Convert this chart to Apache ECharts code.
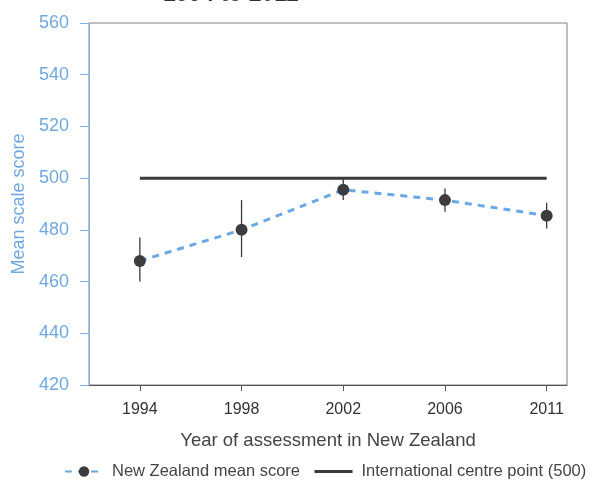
<!DOCTYPE html>
<html><head><meta charset="utf-8">
<script src="https://cdn.jsdelivr.net/npm/echarts@6/dist/echarts.min.js"></script>
<style>html,body{margin:0;padding:0;background:#fff}#c{width:601px;height:484px}</style>
</head><body><div id="c"></div>
<script>
const years = ['1994', '1998', '2002', '2006', '2011'];
const meanScores = [468, 480, 495.5, 491.5, 485.5];
const ciLow = [460, 469.5, 491.5, 487, 480.5];
const ciHigh = [477, 491.5, 500, 496, 490.5];
const centrePoint = 500;

const FONT = '"Liberation Sans", Arial, sans-serif';
const idx = years.map((y, i) => i);
const chart = echarts.init(document.getElementById('c'));
chart.setOption({
  animation: false,
  textStyle: { fontFamily: FONT },
  grid: { left: 89, right: 34, top: 23, bottom: 99, show: true, borderColor: '#808080', borderWidth: 1 },
  graphic: [{
    type: 'text', x: 163, y: -5, z: 100,
    style: { text: '1994 to 2011', font: 'bold 23px ' + FONT, fill: '#333', verticalAlign: 'middle' }
  }],
  xAxis: {
    type: 'value', min: -0.5, max: 4.2,
    name: 'Year of assessment in New Zealand', nameLocation: 'middle', nameGap: 46,
    nameTextStyle: { fontSize: 18.5, color: '#444', fontFamily: FONT },
    axisLine: { show: true, onZero: false, lineStyle: { color: '#555', width: 1 } },
    axisTick: { show: true, customValues: idx, length: 6, lineStyle: { color: '#555' } },
    axisLabel: { customValues: idx, formatter: v => years[Math.round(v)] || '', fontSize: 16, color: '#333', margin: 17, fontFamily: FONT },
    splitLine: { show: false }
  },
  yAxis: {
    type: 'value', min: 420, max: 560, interval: 20,
    name: 'Mean scale score', nameLocation: 'middle', nameGap: 60,
    nameTextStyle: { fontSize: 18, color: '#6fa8e0', fontFamily: FONT },
    axisLine: { show: true, onZero: false, lineStyle: { color: '#7fb2e5', width: 1 } },
    axisTick: { show: true, length: 9, lineStyle: { color: '#7fb2e5' } },
    axisLabel: { fontSize: 18, color: '#6fa8e0', margin: 20, fontFamily: FONT },
    splitLine: { show: false }
  },
  legend: {
    bottom: 4, left: 64, padding: 0, itemWidth: 38, itemHeight: 13, itemGap: 13,
    textStyle: { fontSize: 16.5, color: '#444', fontFamily: FONT, padding: [0, 0, 0, 4] },
    data: [
      { name: 'New Zealand mean score' },
      { name: 'International centre point (500)', itemStyle: { color: 'rgba(0,0,0,0)', borderWidth: 0 }, lineStyle: { color: '#3a3a3a', width: 3 } }
    ]
  },
  series: [
    {
      name: 'International centre point (500)', type: 'line', z: 1,
      data: [[0, centrePoint], [years.length - 1, centrePoint]],
      symbol: 'none', lineStyle: { color: '#3a3a3a', width: 3 }, itemStyle: { color: '#3a3a3a' }
    },
    {
      name: 'errors', type: 'custom', z: 2,
      data: idx.map(i => [i, ciLow[i], ciHigh[i]]),
      renderItem: (params, api) => {
        const lo = api.coord([api.value(0), api.value(1)]);
        const hi = api.coord([api.value(0), api.value(2)]);
        return { type: 'line', shape: { x1: lo[0], y1: lo[1], x2: hi[0], y2: hi[1] }, style: { stroke: '#3a3a3a', lineWidth: 1.3 } };
      }
    },
    {
      name: 'New Zealand mean score', type: 'line', z: 3,
      data: idx.map(i => [i, meanScores[i]]),
      symbol: 'circle', symbolSize: 12,
      itemStyle: { color: '#3c3c3e', borderWidth: 0 },
      lineStyle: { color: '#6aa9e6', width: 3, type: [7, 6] }
    }
  ]
});
</script></body></html>
